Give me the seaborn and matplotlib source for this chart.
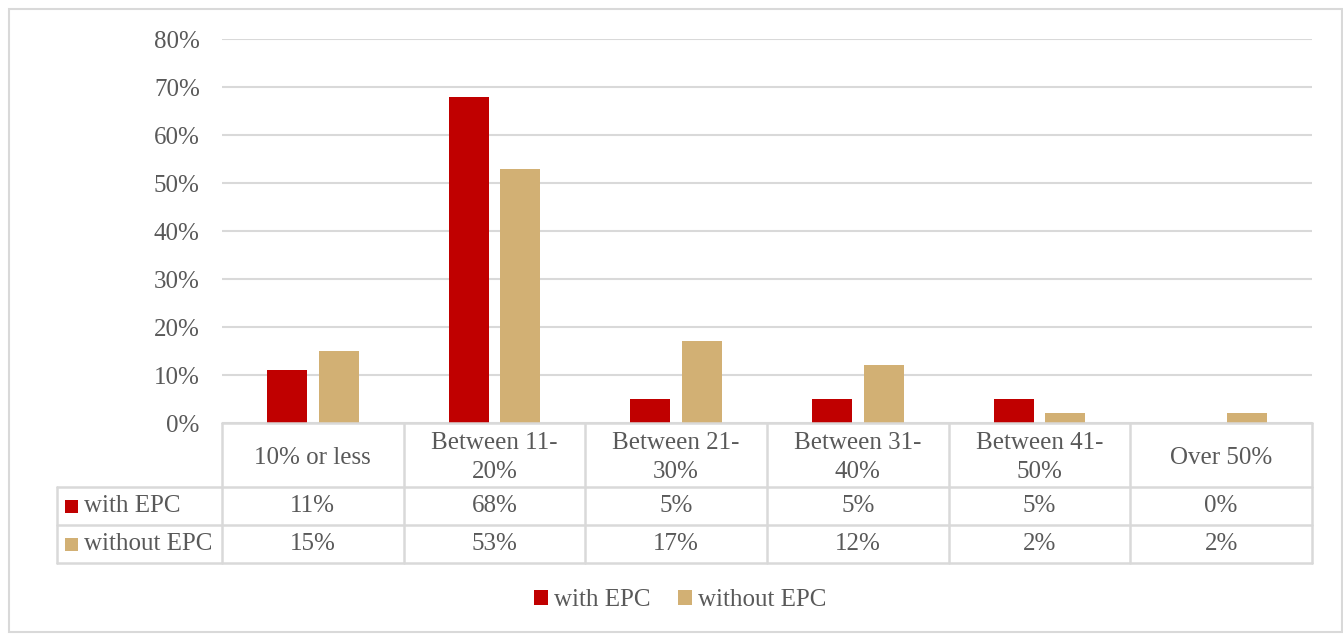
import matplotlib
matplotlib.use("Agg")
import matplotlib.pyplot as plt
from matplotlib.patches import Rectangle
from matplotlib.lines import Line2D
import seaborn as sns
import pandas as pd

categories = ["10% or less", "Between 11-\n20%", "Between 21-\n30%",
              "Between 31-\n40%", "Between 41-\n50%", "Over 50%"]
series_names = ["with EPC", "without EPC"]
with_epc = [11, 68, 5, 5, 5, 0]
without_epc = [15, 53, 17, 12, 2, 2]
colors = ["#C00000", "#D2B074"]

TEXT = "#595959"
GRID = "#D9D9D9"

df = pd.DataFrame({
    "category": categories * 2,
    "series": [series_names[0]] * len(categories) + [series_names[1]] * len(categories),
    "value": [v / 100 for v in with_epc + without_epc],
})

sns.set_theme(style="white")
plt.rcParams["font.family"] = ["Liberation Serif", "DejaVu Serif"]

W, H = 1343, 635
fig = plt.figure(figsize=(W / 100, H / 100), dpi=100)


def fx(x):
    return x / W


def fy(y):
    return 1 - y / H


# plot area in pixel terms
L, R, T, B = 222, 1312, 39, 423
ax = fig.add_axes([fx(L), fy(B), fx(R) - fx(L), fy(T) - fy(B)])

sns.barplot(data=df, x="category", y="value", hue="series", order=categories,
            hue_order=series_names, palette=colors, width=0.57, gap=0.23,
            saturation=1, linewidth=0, ax=ax, legend=False)

ax.set_xlim(-0.5, len(categories) - 0.5)
ax.set_ylim(0, 0.8)
ax.set_yticks([i / 10 for i in range(9)])
ax.set_yticklabels([f"{i * 10}%" for i in range(9)], fontsize=18, color=TEXT)
ax.tick_params(axis="y", length=0, pad=16)
ax.set_xticks([])
ax.set_xlabel("")
ax.set_ylabel("")
ax.grid(axis="y", color=GRID, linewidth=1.5)
ax.set_axisbelow(True)
for s in ax.spines.values():
    s.set_visible(False)

# data table below the plot
col_w = (R - L) / len(categories)
row_lines = [B, 487, 525, 563]
left_edge = 57
line_kw = dict(color=GRID, linewidth=1.8, transform=fig.transFigure, zorder=5)

fig.add_artist(Line2D([fx(L), fx(R)], [fy(B), fy(B)], **line_kw))
for y in row_lines[1:]:
    fig.add_artist(Line2D([fx(left_edge), fx(R)], [fy(y), fy(y)], **line_kw))
for i in range(len(categories) + 1):
    x = L + i * col_w
    fig.add_artist(Line2D([fx(x), fx(x)], [fy(B), fy(row_lines[-1])], **line_kw))
fig.add_artist(Line2D([fx(left_edge), fx(left_edge)], [fy(row_lines[1]), fy(row_lines[-1])], **line_kw))

for i, cat in enumerate(categories):
    cx = L + (i + 0.5) * col_w
    fig.text(fx(cx), fy((row_lines[0] + row_lines[1]) / 2 + 2.5), cat, ha="center", va="center",
             fontsize=18, color=TEXT, linespacing=1.45)
    for r, vals in enumerate([with_epc, without_epc]):
        cy = (row_lines[r + 1] + row_lines[r + 2]) / 2
        fig.text(fx(cx), fy(cy), f"{vals[i]}%", ha="center", va="center",
                 fontsize=18, color=TEXT)

for r, name in enumerate(series_names):
    cy = (row_lines[r + 1] + row_lines[r + 2]) / 2
    fig.add_artist(Rectangle((fx(65), fy(cy + 6.5)), fx(13), 13 / H,
                             facecolor=colors[r], edgecolor="none",
                             transform=fig.transFigure))
    fig.text(fx(84), fy(cy), name, ha="left", va="center", fontsize=18, color=TEXT)

# legend at the bottom
handles = [Rectangle((0, 0), 1, 1, facecolor=c, edgecolor="none") for c in colors]
leg = fig.legend(handles, series_names, loc="center", bbox_to_anchor=(fx(680), fy(600)),
                 ncol=2, frameon=False, fontsize=18, handlelength=0.55, handleheight=0.55,
                 handletextpad=0.25, columnspacing=1.1)
for t in leg.get_texts():
    t.set_color(TEXT)

# outer chart border
fig.add_artist(Rectangle((fx(8.5), fy(632)), fx(1333), (632 - 8.5) / H, facecolor="none",
                         edgecolor=GRID, linewidth=1.5, transform=fig.transFigure))

fig.savefig("out.png", dpi=100)
